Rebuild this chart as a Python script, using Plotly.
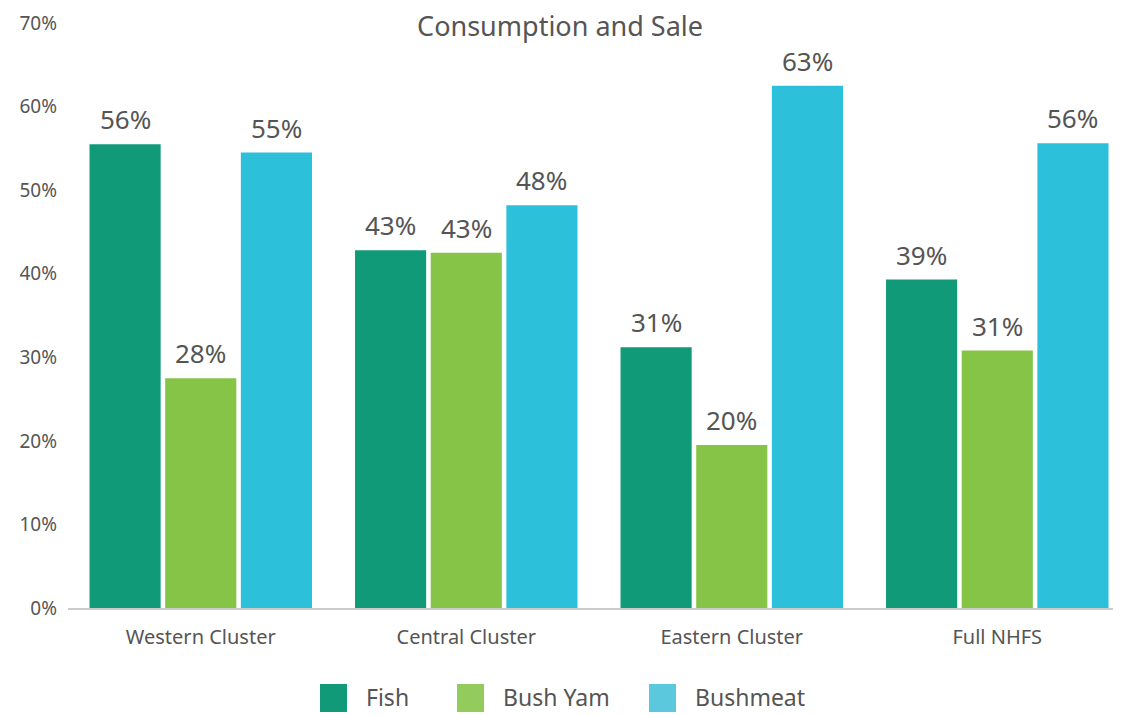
import plotly.graph_objects as go

categories = ["Western Cluster", "Central Cluster", "Eastern Cluster", "Full NHFS"]
fish = [55.5, 42.8, 31.2, 39.3]
bush_yam = [27.5, 42.5, 19.5, 30.8]
bushmeat = [54.5, 48.2, 62.5, 55.6]

series_names = ["Fish", "Bush Yam", "Bushmeat"]
bar_colors = ["#109a78", "#86c448", "#2cc0da"]
legend_colors = ["#109a78", "#93cc5c", "#5bc8de"]
y_ticks = [0, 10, 20, 30, 40, 50, 60, 70]

FONT = "Noto Sans"
TXT = "#555555"

# figure is drawn inside the page body (8px default margin)
W, H = 1113, 707
ML, MT, MB, MR = 60, 15, 107, 0
PW = W - ML - MR
PH = H - MT - MB

def px_x(page_x):
    return (page_x - 8 - ML) / PW

def px_y(page_y):
    return (H - MB - (page_y - 8)) / PH

fig = go.Figure()
all_series = [fish, bush_yam, bushmeat]
for name, vals, col in zip(series_names, all_series, bar_colors):
    fig.add_trace(go.Bar(
        name=name, x=categories, y=vals,
        marker=dict(color=col, line=dict(width=0)),
        showlegend=False, hoverinfo="x+y",
    ))

slot = 75.6
for i, vals in enumerate(all_series):
    for cat, v in zip(categories, vals):
        fig.add_annotation(
            x=cat, y=v, xref="x", yref="y", text=f"{round(v + 1e-9):.0f}%",
            showarrow=False, xshift=(i - 1) * slot, yshift=25,
            xanchor="center", yanchor="middle",
            font=dict(size=26, color=TXT, family=FONT),
        )

fig.update_layout(
    width=W, height=H,
    margin=dict(l=ML, r=MR, t=MT, b=MB, autoexpand=False),
    paper_bgcolor="white", plot_bgcolor="white",
    barmode="group", bargap=0.145, bargroupgap=0.06,
    font=dict(family=FONT, color=TXT),
    title=dict(text="Consumption and Sale", x=0.496, xref="container", xanchor="center",
               y=1 - 19 / H, yref="container", yanchor="middle",
               font=dict(size=27, color=TXT, family=FONT)),
    xaxis=dict(range=[-0.5, 3.466], showline=True, linecolor="#cccccc", linewidth=2,
               ticks="", ticklabelstandoff=10, automargin=False,
               tickfont=dict(size=20, color=TXT, family=FONT)),
    yaxis=dict(range=[0, 70], tickvals=y_ticks, ticktext=[f"{t}%" for t in y_ticks],
               showgrid=False, zeroline=False, ticks="", ticklabelstandoff=10,
               automargin=False, tickfont=dict(size=19, color=TXT, family=FONT)),
)

# custom legend
legend_x = [320, 457, 649]
for xpix, name, col in zip(legend_x, series_names, legend_colors):
    fig.add_shape(type="rect", xref="paper", yref="paper",
                  x0=px_x(xpix), x1=px_x(xpix + 27),
                  y0=px_y(712), y1=px_y(684),
                  fillcolor=col, line=dict(width=0))
    fig.add_annotation(xref="paper", yref="paper", x=px_x(xpix + 44), y=px_y(697),
                       text=name, showarrow=False, xanchor="left", yanchor="middle",
                       font=dict(size=23, color=TXT, family=FONT))

fig.write_html("out.html")
